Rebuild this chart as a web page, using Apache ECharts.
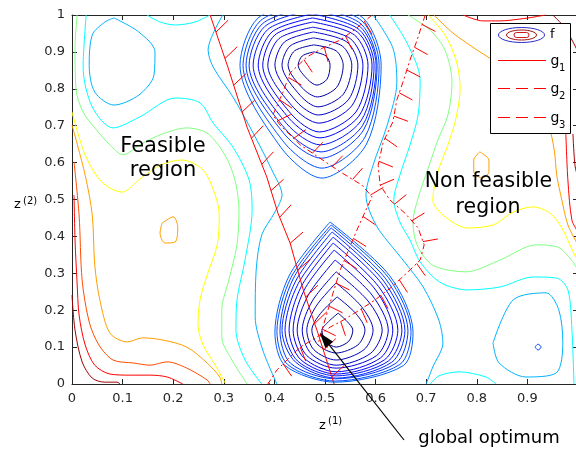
<!DOCTYPE html>
<html>
<head>
<meta charset="utf-8">
<script src="https://cdn.jsdelivr.net/npm/echarts@6/dist/echarts.min.js"></script>
<style>
html, body { margin: 0; padding: 0; background: #fff; }
#main { width: 576px; height: 452px; }
</style>
</head>
<body>
<div id="main"></div>
<script>
// tick labels
var xTickLabels = ['0', '0.1', '0.2', '0.3', '0.4', '0.5', '0.6', '0.7', '0.8', '0.9', ''];
var yTickLabels = ['0', '0.1', '0.2', '0.3', '0.4', '0.5', '0.6', '0.7', '0.8', '0.9', '1'];

// contours of f, [z1, z2]
// rings round the lower minimum, inner to outer
var lowerRings = [
	[[.526,.192],[.544,.169],[.555,.146],[.547,.116],[.522,.100],[.501,.116],[.494,.146],[.507,.169],[.526,.192]],
	[[.524,.236],[.561,.191],[.579,.146],[.565,.106],[.522,.084],[.486,.106],[.474,.146],[.491,.191],[.524,.236]],
	[[.522,.274],[.572,.210],[.595,.146],[.577,.093],[.522,.065],[.478,.093],[.464,.146],[.482,.210],[.522,.274]],
	[[.522,.304],[.585,.225],[.613,.146],[.590,.083],[.522,.051],[.472,.083],[.455,.146],[.475,.225],[.522,.304]],
	[[.520,.336],[.593,.241],[.625,.146],[.602,.077],[.522,.043],[.464,.077],[.445,.146],[.467,.241],[.520,.336]],
	[[.518,.363],[.600,.255],[.634,.146],[.610,.071],[.522,.033],[.458,.071],[.437,.146],[.459,.255],[.518,.363]],
	[[.516,.382],[.606,.264],[.644,.146],[.618,.066],[.522,.027],[.452,.066],[.429,.146],[.453,.264],[.516,.382]],
	[[.516,.398],[.612,.272],[.652,.146],[.625,.062],[.522,.022],[.446,.062],[.421,.146],[.447,.272],[.516,.398]],
	[[.514,.412],[.616,.279],[.658,.145],[.632,.059],[.522,.016],[.442,.059],[.415,.145],[.442,.279],[.514,.412]],
	[[.512,.423],[.620,.285],[.664,.144],[.640,.056],[.521,.014],[.432,.056],[.411,.144],[.437,.285],[.512,.423]],
	[[.512,.431],[.625,.289],[.670,.142],[.648,.053],[.520,.008],[.426,.053],[.405,.142],[.433,.289],[.512,.431]],
	[[.510,.439],[.628,.293],[.674,.140],[.655,.050],[.520,.005],[.421,.050],[.401,.140],[.429,.293],[.510,.439]]
];
// rings round the upper minimum, inner to outer (outer ones run past the top)
var upperRings = [
	[[.478,.900],[.502,.889],[.510,.864],[.504,.826],[.484,.810],[.466,.825],[.447,.864],[.455,.889],[.478,.900]],
	[[.478,.919],[.522,.903],[.536,.864],[.523,.804],[.485,.778],[.456,.801],[.427,.864],[.440,.903],[.478,.919]],
	[[.477,.938],[.534,.916],[.553,.864],[.536,.785],[.486,.751],[.451,.782],[.415,.864],[.431,.916],[.477,.938]],
	[[.477,.954],[.543,.927],[.565,.864],[.546,.770],[.487,.729],[.444,.765],[.401,.864],[.420,.927],[.477,.954]],
	[[.476,.967],[.550,.936],[.575,.864],[.553,.754],[.488,.707],[.438,.749],[.387,.864],[.409,.936],[.476,.967]],
	[[.476,.981],[.558,.946],[.585,.864],[.561,.737],[.489,.683],[.433,.732],[.377,.864],[.401,.946],[.476,.981]],
	[[.475,.992],[.564,.954],[.593,.864],[.567,.726],[.490,.667],[.429,.720],[.368,.864],[.395,.954],[.475,.992]],
	[[.475,1.003],[.567,.961],[.597,.864],[.571,.713],[.491,.648],[.424,.706],[.358,.864],[.387,.961],[.475,1.003]],
	[[.474,1.014],[.569,.969],[.601,.864],[.574,.700],[.492,.629],[.421,.692],[.350,.864],[.381,.969],[.474,1.014]],
	[[.473,1.024],[.571,.976],[.603,.864],[.576,.688],[.493,.612],[.418,.680],[.344,.864],[.376,.976],[.473,1.024]],
	[[.472,1.035],[.573,.984],[.607,.864],[.579,.669],[.494,.585],[.416,.660],[.338,.864],[.372,.984],[.472,1.035]],
	[[.472,1.046],[.576,.991],[.611,.864],[.582,.650],[.494,.558],[.413,.641],[.332,.864],[.367,.991],[.472,1.046]]
];
var skyTopLeft = [[.083,.992],[.132,.954],[.164,.900],[.162,.837],[.132,.783],[.083,.756],[.045,.791],[.034,.864],[.040,.946],[.065,.981],[.083,.992]];
var skyLeft = [[.298,1],[.269,.905],[.279,.859],[.318,.778],[.358,.680],[.395,.580],[.415,.512],[.401,.466],[.375,.404],[.364,.309],[.362,.182],[.377,.092],[.405,0]];
var skyRight = [[.595,1],[.634,.911],[.642,.818],[.623,.702],[.595,.593],[.581,.512],[.587,.472],[.607,.417],[.654,.336],[.694,.263],[.725,.173],[.733,.111],[.713,.046],[.700,0]];
var skyBottomRight = [[.832,.111],[.872,.228],[.937,.247],[.962,.201],[.970,.111],[.957,.030],[.897,.019],[.844,.057],[.832,.111]];
var blueDot = [[.915,.100],[.921,.108],[.927,.100],[.921,.092],[.915,.100]];
var cyanLeft = [[.028,1],[.022,.859],[.040,.751],[.081,.694],[.134,.724],[.204,.775],[.253,.762],[.279,.707],[.318,.642],[.350,.553],[.356,.472],[.342,.336],[.326,.228],[.324,.146],[.342,.065],[.375,0]];
var cyanTop = [[.148,1],[.174,.981],[.204,.973],[.243,.981],[.273,1]];
var cyanRight = [[.628,1],[.664,.919],[.688,.824],[.684,.729],[.668,.648],[.648,.566],[.636,.499],[.648,.439],[.668,.390],[.688,.331],[.727,.276],[.781,.255],[.846,.263],[.911,.290],[.958,.287],[.980,.255],[.988,.146],[.992,0]];
var cyanBottom = [[.708,0],[.725,.022],[.765,.033],[.818,.019],[.838,0]];
var greenLeft = [[.010,1],[.006,.911],[.008,.797],[.022,.737],[.045,.694],[.075,.648],[.101,.621],[.134,.648],[.174,.675],[.227,.694],[.267,.680],[.302,.621],[.322,.553],[.330,.472],[.326,.377],[.310,.282],[.296,.201],[.296,.127],[.316,.065],[.346,0]];
var greenRight = [[.664,1],[.708,.959],[.737,.905],[.751,.818],[.743,.729],[.723,.661],[.704,.585],[.684,.504],[.674,.439],[.682,.377],[.713,.322],[.779,.304],[.846,.336],[.917,.377],[.960,.371],[.984,.341],[1,.309]];
var yellowLeft = [[0,.737],[.026,.621],[.059,.547],[.099,.520],[.132,.553],[.174,.593],[.217,.607],[.259,.580],[.283,.512],[.291,.458],[.287,.377],[.267,.295],[.253,.228],[.249,.160],[.259,.106],[.283,.051],[.304,0]];
var yellowRight = [[.704,1],[.737,.946],[.759,.878],[.767,.802],[.759,.721],[.743,.648],[.723,.575],[.713,.499],[.733,.458],[.781,.423],[.832,.431],[.872,.466],[.911,.480],[.945,.463],[.968,.423],[.984,.377],[1,.331]];
var orangeLeft = [[0,.702],[.026,.566],[.040,.458],[.045,.322],[.055,.228],[.075,.138],[.109,.114],[.140,.125],[.180,.119],[.227,.100],[.267,.057],[.292,.019],[.296,0]];
var orangeIslandLeft = [[.178,.436],[.200,.453],[.209,.425],[.204,.385],[.184,.382],[.174,.409],[.178,.436]];
var orangeIslandRight = [[.806,.629],[.824,.607],[.824,.575],[.810,.558],[.794,.575],[.794,.607],[.806,.629]];
var orangeRight = [[.715,1],[.753,.951],[.792,.913],[.836,.873],[.895,.810],[.941,.702],[.953,.634],[.958,.566],[.968,.499],[.980,.431],[1,.377]];
var redOrangeLeft = [[.004,.602],[.014,.458],[.020,.282],[.034,.168],[.053,.106],[.081,.065],[.121,.057],[.154,.051],[.188,.060],[.227,.043],[.267,.011],[.273,0]];
var redLeft = [[.004,.512],[.006,.390],[.010,.276],[.014,.187],[.026,.106],[.045,.051],[.075,.027],[.115,.024],[.154,.024],[.188,.019],[.219,0]];
var redTop = [[.773,1],[.812,.984],[.846,.984],[.885,.989],[.915,.995],[.935,1]];
var redRight = [[.976,.678],[.980,.553],[.988,.444],[1,.412]];
var darkRedLeft = [[0,.241],[.006,.146],[.020,.060],[.040,.016],[.065,.005],[.089,.005],[.095,0]];
var darkRedTop = [[.950,1],[.968,.975],[.985,.940],[1,.900]];
var darkRedRight = [[.990,.678],[.994,.593],[1,.558]];

// constraints g1, g2, g3
var g1Pts = [[.273,1],[.308,.859],[.346,.696],[.385,.561],[.407,.463],[.431,.382],[.457,.255],[.486,.138],[.518,0]];
var g2Pts = [[.593,1],[.563,.965],[.530,.932],[.496,.911],[.464,.886],[.431,.843],[.417,.791],[.397,.729],[.411,.702],[.451,.648],[.490,.612],[.530,.575],[.573,.539],[.593,.507],[.579,.466],[.563,.417],[.549,.371],[.530,.309],[.516,.247],[.504,.192],[.494,.146],[.486,.106]];
var g3Pts = [[.698,1],[.682,.932],[.668,.878],[.654,.818],[.642,.770],[.634,.710],[.615,.656],[.605,.593],[.609,.539],[.628,.499],[.658,.463],[.684,.423],[.696,.377],[.688,.336],[.668,.309],[.632,.263],[.599,.228],[.569,.201],[.536,.173],[.510,.154],[.484,.127],[.451,.100],[.425,.065],[.405,.038],[.387,0]];

var optimum = [0.49, 0.138];

// jet colour map
function jet(t) {
	function c(v) { return Math.round(255 * Math.max(0, Math.min(1, v))); }
	return 'rgb(' + c(1.5 - Math.abs(4 * t - 3)) + ',' + c(1.5 - Math.abs(4 * t - 2)) + ',' + c(1.5 - Math.abs(4 * t - 1)) + ')';
}

var FONT = '"DejaVu Sans", "Liberation Sans", sans-serif';
var series = [];

function addContour(pts, t) {
	series.push({
		type: 'line', data: pts, symbol: 'none', smooth: 0.3, silent: true, z: 2,
		lineStyle: { color: jet(t), width: 1 }
	});
}

lowerRings.forEach(function(r, i) { addContour(r, 0.02 + i * 0.018); });
upperRings.forEach(function(r, i) { addContour(r, 0.02 + i * 0.018); });
addContour(blueDot, 0.2);
[skyTopLeft, skyLeft, skyRight, skyBottomRight].forEach(function(p) { addContour(p, 0.3); });
[cyanLeft, cyanTop, cyanRight, cyanBottom].forEach(function(p) { addContour(p, 0.375); });
[greenLeft, greenRight].forEach(function(p) { addContour(p, 0.5); });
[yellowLeft, yellowRight].forEach(function(p) { addContour(p, 0.625); });
[orangeLeft, orangeIslandLeft, orangeIslandRight, orangeRight].forEach(function(p) { addContour(p, 0.72); });
addContour(redOrangeLeft, 0.8);
[redLeft, redTop, redRight].forEach(function(p) { addContour(p, 0.875); });
[darkRedLeft, darkRedTop, darkRedRight].forEach(function(p) { addContour(p, 0.97); });

/**
 * constraint line plus its hatch marks on the infeasible side
 */
function addConstraint(pts, dash, hatch) {
	series.push({
		type: 'line', data: pts, symbol: 'none', silent: true, z: 3,
		lineStyle: { color: '#ff0000', width: 1, type: dash }
	});
	series.push({
		type: 'custom', data: pts, silent: true, z: 3, clip: true,
		renderItem: function(params, api) {
			if (params.dataIndex !== 0) return null;
			var px = pts.map(function(p) { return api.coord(p); });
			var kids = [];
			var acc = 0, next = hatch.start;
			var c = Math.cos(hatch.tilt), s = Math.sin(hatch.tilt);
			for (var i = 0; i < px.length - 1; i++) {
				var a = px[i], b = px[i + 1];
				var dx = b[0] - a[0], dy = b[1] - a[1];
				var len = Math.sqrt(dx * dx + dy * dy);
				if (!len) continue;
				var tx = dx / len, ty = dy / len;
				var hx = ty * c - tx * s, hy = -tx * c - ty * s;
				while (next <= acc + len) {
					var f = (next - acc) / len;
					var x0 = a[0] + dx * f, y0 = a[1] + dy * f;
					kids.push({
						type: 'line',
						shape: { x1: x0, y1: y0, x2: x0 + hx * hatch.len, y2: y0 + hy * hatch.len },
						style: { stroke: '#ff0000', lineWidth: 1 }
					});
					next += hatch.gap;
				}
				acc += len;
			}
			return { type: 'group', children: kids };
		}
	});
}

addConstraint(g1Pts, 'solid', { start: 18, gap: 28, len: 17, tilt: 0.44 });
addConstraint(g2Pts, [6, 3, 2, 3], { start: 10, gap: 24, len: 15, tilt: -0.17 });
addConstraint(g3Pts, [6, 3, 2, 3], { start: 10, gap: 24, len: 15, tilt: -0.17 });

function makeAxis(pos, labels, margin) {
	return {
		type: 'value', min: 0, max: 1, interval: 0.1, position: pos,
		axisLine: { show: true, onZero: false, lineStyle: { color: '#262626', width: 1 } },
		axisTick: { show: true, inside: true, length: 5, lineStyle: { color: '#262626' } },
		splitLine: { show: false },
		axisLabel: labels ? {
			show: true, color: '#262626', fontSize: 13, fontFamily: FONT, margin: margin,
			formatter: function(v) { return labels[Math.round(v * 10)]; }
		} : { show: false }
	};
}

function txt(x, y, text, size, align) {
	return {
		type: 'text', x: x, y: y, z: 100,
		style: { text: text, fill: '#000', font: size + 'px ' + FONT, align: align || 'center', verticalAlign: 'middle' }
	};
}

var graphicEls = [
	txt(163, 146.5, 'Feasible', 21),
	txt(163, 170.5, 'region', 21),
	txt(488.5, 181.5, 'Non feasible', 20.5),
	txt(488, 207.5, 'region', 20.5),
	txt(489, 438, 'global optimum', 18),
	txt(14, 204.5, 'z', 13, 'left'),
	txt(23, 201, '(2)', 10, 'left'),
	txt(319, 426, 'z', 13, 'left'),
	txt(328, 421.5, '(1)', 10, 'left'),
	// legend
	{ type: 'rect', z: 99, shape: { x: 490.5, y: 23.5, width: 80, height: 110 }, style: { fill: '#fff', stroke: '#000', lineWidth: 1 } },
	{ type: 'ellipse', z: 100, shape: { cx: 521.5, cy: 35, rx: 23, ry: 7.5 }, style: { fill: 'transparent', stroke: '#2a2ac8', lineWidth: 1 } },
	{ type: 'ellipse', z: 100, shape: { cx: 521.5, cy: 35, rx: 15, ry: 5 }, style: { fill: 'transparent', stroke: '#a01010', lineWidth: 1 } },
	{ type: 'rect', z: 100, shape: { x: 514, y: 32.5, width: 15, height: 5, r: 2.5 }, style: { fill: 'transparent', stroke: '#d01818', lineWidth: 1 } },
	txt(550, 35, 'f', 13, 'left'),
	{ type: 'line', z: 100, shape: { x1: 498, y1: 60.5, x2: 546, y2: 60.5 }, style: { stroke: '#ff0000', lineWidth: 1 } },
	{ type: 'line', z: 100, shape: { x1: 498, y1: 88.5, x2: 546, y2: 88.5 }, style: { stroke: '#ff0000', lineWidth: 1, lineDash: [12, 6] } },
	{ type: 'line', z: 100, shape: { x1: 498, y1: 117.5, x2: 546, y2: 117.5 }, style: { stroke: '#ff0000', lineWidth: 1, lineDash: [12, 6] } },
	txt(550.5, 61.5, 'g', 14, 'left'), txt(559, 68, '1', 10, 'left'),
	txt(550.5, 89.5, 'g', 14, 'left'), txt(559, 96, '2', 10, 'left'),
	txt(550.5, 118.5, 'g', 14, 'left'), txt(559, 125, '3', 10, 'left')
];

var option = {
	animation: false,
	backgroundColor: '#fff',
	grid: { left: 72, top: 15, width: 506, height: 369, containLabel: false, outerBoundsMode: 'none' },
	xAxis: [makeAxis('bottom', xTickLabels, 8), makeAxis('top', null)],
	yAxis: [makeAxis('left', yTickLabels, 7), makeAxis('right', null)],
	series: series,
	graphic: graphicEls
};

var chart = echarts.init(document.getElementById('main'));
chart.setOption(option);

// arrow to the optimum
var tip = chart.convertToPixel({ seriesIndex: 0 }, optimum);
var tail = [404, 440];
var dx = tip[0] - tail[0], dy = tip[1] - tail[1];
var dl = Math.sqrt(dx * dx + dy * dy);
dx /= dl; dy /= dl;
var base = [tip[0] - dx * 15, tip[1] - dy * 15];
graphicEls.push({ type: 'line', z: 100, shape: { x1: tail[0], y1: tail[1], x2: base[0], y2: base[1] }, style: { stroke: '#000', lineWidth: 1.2 } });
graphicEls.push({ type: 'polygon', z: 100, shape: { points: [tip, [base[0] - dy * 5, base[1] + dx * 5], [base[0] + dy * 5, base[1] - dx * 5]] }, style: { fill: '#000' } });
chart.setOption({ graphic: graphicEls });
</script>
</body>
</html>
